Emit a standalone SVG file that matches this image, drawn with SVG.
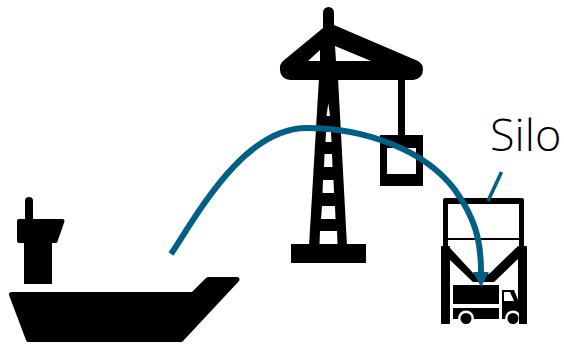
<svg xmlns="http://www.w3.org/2000/svg" width="564" height="344" viewBox="0 0 564 344">
<style>
.k{fill:#000}
.w{fill:#fff}
.r{fill:#000;stroke:#000;stroke-linejoin:round}
.t{font-family:"Open Sans","Liberation Sans",sans-serif;font-weight:300;font-size:45px;fill:#000}
.c{fill:none;stroke:#005f85}
</style>
<defs><marker id="arrow" markerUnits="userSpaceOnUse" markerWidth="20" markerHeight="20" refX="9" refY="1" orient="0"><path d="M1 1H17L9 16Z" fill="#005f85"/></marker></defs>
<rect width="564" height="344" fill="#fff"/>
<g id="ship">
<path class="r" stroke-width="5" d="M11.500 294.500H193L208 279.500H237L181 339.500H28.500Z"/>
<path class="k" d="M24 240H52V284H24Z"/>
<path class="r" stroke-width="4" d="M19 221H62.500L55.500 241H19Z"/>
<rect class="k" x="25" y="197" width="8" height="26" rx="4"/>
</g>
<g id="crane">
<rect class="k" x="323" y="7" width="11" height="30" rx="5.500"/>
<path class="k" d="M323 28L334 25L418 61A10 10 0 0 1 423 70A10 10 0 0 1 413 80H290A10 10 0 0 1 280 70A10 10 0 0 1 283 61Z"/>
<path class="k" d="M319 78H338L347 246H309Z"/>
<path class="w" d="M308 61L320 50V61ZM335 46L371 61H336ZM328.300 103L330 116H326.500ZM326 132H331L331.500 142H325.500ZM324.500 154H332L332.500 167H324ZM323 180H333.500L334 193H322.500ZM322 206H335L335.500 219H321ZM320 231H337L337.500 244H319.500Z"/>
<rect class="k" x="291" y="244" width="75" height="19"/>
<rect class="k" x="398" y="78" width="7" height="60"/>
<path class="k" fill-rule="evenodd" d="M380 135H423V186H380ZM387 148V174H416V148Z"/>
</g>
<g id="silo">
<path class="k" fill-rule="evenodd" d="M445 198H522Q524 198 524 200V248H519V204H448V248H443V200Q443 198 445 198Z"/>
<rect class="k" x="448" y="238" width="71" height="2"/>
<rect class="k" x="441" y="246" width="9" height="78" rx="1"/>
<rect class="k" x="518" y="246" width="9" height="78" rx="1"/>
<path class="k" d="M450 248L474 274H489L518 246V259L494 282H473L450 260Z"/>
<rect class="k" x="453" y="285" width="46" height="19"/>
<rect class="k" x="453" y="308" width="46" height="11"/>
<path class="k" d="M502 290H514L518 300V319H502Z"/>
<path class="w" d="M504 292H510L514 301H504Z"/>
<circle class="w" cx="466" cy="318.500" r="8"/>
<circle class="k" cx="466" cy="318.500" r="5.500"/>
<circle class="w" cx="513" cy="318.500" r="8"/>
<circle class="k" cx="513" cy="318.500" r="5.500"/>
<rect class="k" x="519" y="308" width="8" height="16"/>
</g>
<g id="connectors">
<path class="c" stroke-width="3.500" d="M501.500 172L488 201"/>
<path class="c" stroke-width="6" marker-end="url(#arrow)" d="M171 254C200 210 245 128 307 128C365 128 425 150 455 190C475 218 481 240 481 272"/>
</g>
<text class="t" x="490" y="151">Silo</text>
</svg>
